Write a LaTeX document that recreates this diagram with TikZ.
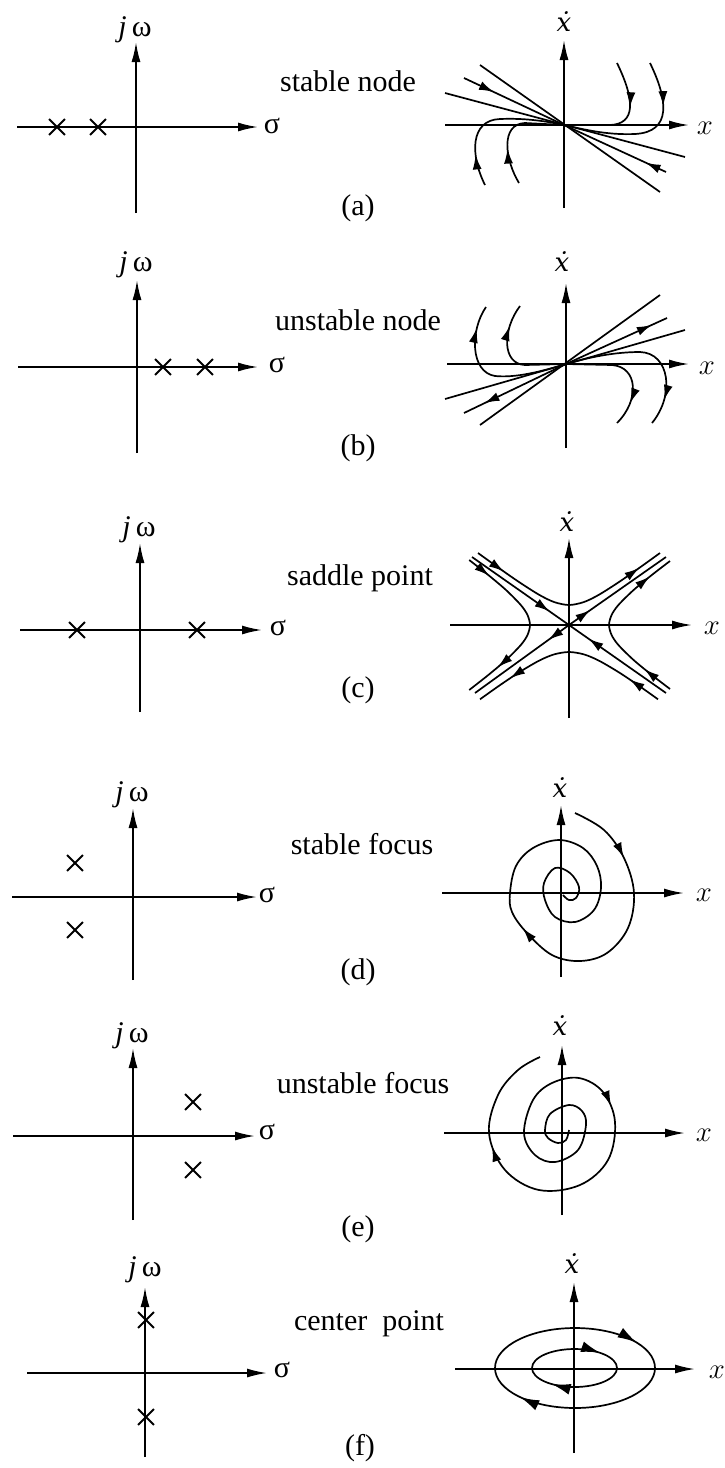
\documentclass[tikz,border=0pt]{standalone}
\usepackage{fontspec}
\setmainfont{Liberation Serif}
\newfontfamily\dotfont{DejaVu Serif}
\usepackage{tikz}
\usetikzlibrary{arrows.meta, shapes.misc, decorations.markings}

\newcommand{\xdot}{{\dotfont\itshape ẋ}}

\begin{document}
\begin{tikzpicture}[
    x=0.5pt, y=-0.5pt,
    axis/.style={line width=0.9pt, -{Latex[length=10pt, width=4.5pt]}},
    traj/.style={line width=0.85pt},
    flow/.style={postaction={decorate, decoration={markings,
        mark=at position #1 with {\arrow{Latex[length=7.5pt, width=4.5pt]}}}}},
    bigflow/.style={postaction={decorate, decoration={markings,
        mark=at position #1 with {\arrow{Latex[length=9.5pt, width=5.5pt]}}}}},
    pole/.style={cross out, draw, line width=0.9pt, minimum size=7pt, inner sep=0pt},
    lbl/.style={font=\fontsize{15}{18}\selectfont, inner sep=0pt},
    dlbl/.style={font=\fontsize{13}{16}\selectfont, inner sep=0pt}
]

\useasboundingbox (0,0) rectangle (724,1468);

% (a) stable node
\draw[axis] (17,127) -- (258,127);
\draw[axis] (136,213) -- (136,42);
\node[pole] (pa1) at (57,127) {};
\node[pole] (pa2) at (98,127) {};
\node[lbl] (jwa) at (135,30) {\textit{j}\,ω};
\node[lbl] (siga) at (272,126) {σ};
\node[lbl, anchor=base] (namea) at (348,91) {stable node};
\node[lbl] (capa) at (358,208) {(a)};
\draw[axis] (445,125) -- (689,125);
\draw[axis] (564,208) -- (564,40);
\node[dlbl] (xda) at (564,22) {\xdot};
\node[lbl] (xa) at (705,128) {$x$};
\draw[traj] (480,65) -- (660,192);
\draw[traj, flow=0.3] (464,78) -- (564,125);
\draw[traj, flow=0.2] (666,172) -- (564,125);
\draw[traj] (445,93) -- (685,157);
\draw[traj, flow=0.38] (617,63) .. controls (635,100) and (636,124) .. (610,125) -- (564,125);
\draw[traj, flow=0.28] (650,63) .. controls (668,100) and (672,132) .. (635,134)
    .. controls (610,135) and (590,131) .. (564,125);
\draw[traj, flow=0.22] (485,185) .. controls (470,155) and (470,120) .. (500,119)
    .. controls (525,118) and (545,121) .. (564,125);
\draw[traj, flow=0.33] (519,183) .. controls (505,160) and (500,124) .. (525,123) -- (564,125);

% (b) unstable node
\draw[axis] (18,367) -- (258,367);
\draw[axis] (137,453) -- (137,280);
\node[pole] (pb1) at (163,367) {};
\node[pole] (pb2) at (205,367) {};
\node[lbl] (jwb) at (136,265) {\textit{j}\,ω};
\node[lbl] (sigb) at (277,365) {σ};
\node[lbl, anchor=base] (nameb) at (358,330) {unstable node};
\node[lbl] (capb) at (358,448) {(b)};
\draw[axis] (447,364) -- (689,364);
\draw[axis] (566,448) -- (566,283);
\node[dlbl] (xdb) at (562,262) {\xdot};
\node[lbl] (xb) at (707,368) {$x$};
\draw[traj] (480,425) -- (660,295);
\draw[traj, flow=0.8] (566,364) -- (464,413);
\draw[traj, flow=0.85] (566,364) -- (667,318);
\draw[traj] (445,399) -- (685,330);
\draw[traj, flow=0.85] (566,364) .. controls (540,372) and (515,378) .. (495,376)
    .. controls (470,372) and (470,330) .. (486,307);
\draw[traj, flow=0.8] (566,364) -- (525,365) .. controls (502,364) and (502,330) .. (520,306);
\draw[traj, flow=0.8] (566,364) -- (612,365) .. controls (638,367) and (640,400) .. (617,423);
\draw[traj, flow=0.84] (566,364) .. controls (590,357) and (615,352) .. (640,352)
    .. controls (670,353) and (675,395) .. (652,423);

% (c) saddle point
\draw[axis] (20,630) -- (262,630);
\draw[axis] (140,712) -- (140,543);
\node[pole] (pc1) at (77,630) {};
\node[pole] (pc2) at (197,630) {};
\node[lbl] (jwc) at (139,530) {\textit{j}\,ω};
\node[lbl] (sigc) at (278,628) {σ};
\node[lbl, anchor=base] (namec) at (360,585) {saddle point};
\node[lbl] (capc) at (358,690) {(c)};
\draw[axis] (450,625) -- (692,625);
\draw[axis] (569,718) -- (569,538);
\node[dlbl] (xdc) at (567,522) {\xdot};
\node[lbl] (xc) at (712,628) {$x$};
\begin{scope}[shift={(569,625)}]
  \draw[traj, flow=0.8] (-97,-68) -- (0,0);
  \draw[traj, flow=0.8] (97,68) -- (0,0);
  \draw[traj, flow=0.22] (0,0) -- (97,-68);
  \draw[traj, flow=0.22] (0,0) -- (-94,68);
  % hyperbolas
  \draw[traj, flow=0.15, flow=0.88] plot[smooth] coordinates {
      (-91,-72) (-70,-56.9) (-50,-43) (-30,-30.3) (-15,-23) (0,-20)
      (15,-23) (30,-30.3) (50,-43) (70,-56.9) (91,-72)};
  \draw[traj, flow=0.17, flow=0.82] plot[smooth] coordinates {
      (89,74.3) (70,60.8) (50,47.4) (30,35.7) (15,29.4) (0,27)
      (-15,29.4) (-30,35.7) (-50,47.4) (-70,60.8) (-89,74.3)};
  \draw[traj, flow=0.14, flow=0.8] plot[smooth] coordinates {
      (-99.8,-65) (-80.7,-50) (-63,-35) (-48.2,-20) (-41.5,-10) (-39,0)
      (-41.5,10) (-48.2,20) (-63,35) (-80.7,50) (-99.8,65)};
  \draw[traj, flow=0.18, flow=0.86] plot[smooth] coordinates {
      (101,64) (82.8,50) (64.6,35) (49.4,20) (42.6,10) (40,0)
      (42.6,-10) (49.4,-20) (64.6,-35) (82.8,-50) (101,-64)};
\end{scope}

% (d) stable focus
\draw[axis] (12,897) -- (257,897);
\draw[axis] (133,980) -- (133,808);
\node[pole] (pd1) at (75,863) {};
\node[pole] (pd2) at (75,930) {};
\node[lbl] (jwd) at (132,795) {\textit{j}\,ω};
\node[lbl] (sigd) at (267,895) {σ};
\node[lbl, anchor=base] (named) at (362,854) {stable focus};
\node[lbl] (capd) at (358,972) {(d)};
\draw[axis] (442,893) -- (684,893);
\draw[axis] (561,977) -- (561,805);
\node[dlbl] (xdd) at (560,788) {\xdot};
\node[lbl] (xd) at (704,895) {$x$};
\draw[traj, flow=0.105, flow=0.42] plot[smooth, tension=0.6] coordinates {
    (575,813) (604,830) (624,858) (634,893) (628,928) (607,953) (580,961)
    (552,955) (527,933) (512,912) (510,893) (516,866) (533,848) (559,840)
    (583,848) (597,866) (601,888) (594,910) (575,922) (555,917) (545,900)
    (544,883) (555,868) (570,873) (579,887) (576,898) (569,900) (563,895)};

% (e) unstable focus
\draw[axis] (13,1136) -- (255,1136);
\draw[axis] (133,1220) -- (133,1048);
\node[pole] (pe1) at (193,1102) {};
\node[pole] (pe2) at (193,1170) {};
\node[lbl] (jwe) at (132,1036) {\textit{j}\,ω};
\node[lbl] (sige) at (267,1132) {σ};
\node[lbl, anchor=base] (namee) at (363,1093) {unstable focus};
\node[lbl] (cape) at (358,1229) {(e)};
\draw[axis] (444,1133) -- (685,1133);
\draw[axis] (562,1215) -- (562,1045);
\node[dlbl] (xde) at (560,1026) {\xdot};
\node[lbl] (xe) at (704,1135) {$x$};
\draw[traj, flow=0.52, flow=0.83] plot[smooth, tension=0.6] coordinates {
    (569,1130) (566,1140) (558,1143) (548,1138) (545,1130) (550,1114) (569,1105)
    (582,1111) (586,1125) (578,1150) (555,1162) (535,1155) (524,1133) (533,1100)
    (552,1083) (579,1078) (603,1092) (615,1122) (608,1160) (580,1185) (539,1190)
    (505,1170) (489,1133) (498,1095) (518,1070) (540,1057)};

% (f) center point
\draw[axis] (27,1373) -- (267,1373);
\draw[axis] (145,1457) -- (145,1287);
\node[pole] (pf1) at (146,1320) {};
\node[pole] (pf2) at (146,1417) {};
\node[lbl] (jwf) at (145,1270) {\textit{j}\,ω};
\node[lbl] (sigf) at (282,1370) {σ};
\node[lbl, anchor=base] (namef) at (369,1330) {center\ \ point};
\node[lbl] (capf) at (360,1448) {(f)};
\draw[axis] (455,1369) -- (695,1369);
\draw[axis] (574,1453) -- (574,1282);
\node[dlbl] (xdf) at (572,1264) {\xdot};
\node[lbl] (xf) at (717,1372) {$x$};
\draw[traj, bigflow=0.915, bigflow=0.395] (655,1368)
    arc[start angle=0, end angle=-360, x radius=40pt, y radius=20pt];
\draw[traj, bigflow=0.88, bigflow=0.365] (617,1368)
    arc[start angle=0, end angle=-360, x radius=21.25pt, y radius=9.5pt];

\end{tikzpicture}
\end{document}
